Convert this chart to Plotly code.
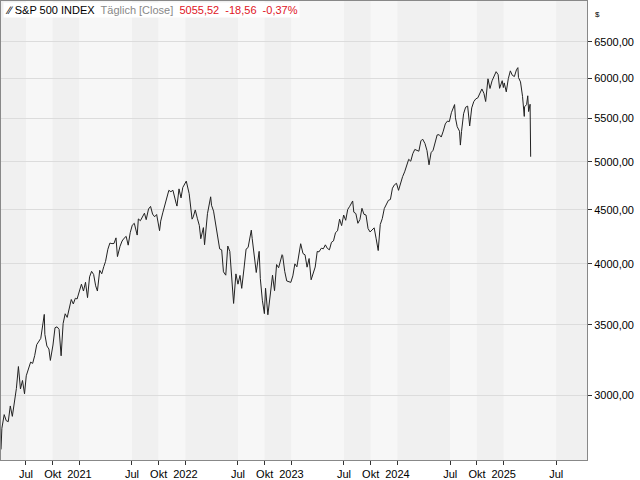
import plotly.graph_objects as go

dates = """2020-04-06 2020-04-09 2020-04-17 2020-04-24 2020-05-01 2020-05-08 2020-05-15 2020-05-22 2020-05-29 2020-06-05 2020-06-12 2020-06-19 2020-06-26
2020-07-02 2020-07-10 2020-07-17 2020-07-24 2020-07-31 2020-08-07 2020-08-14 2020-08-21 2020-09-02 2020-09-04 2020-09-11 2020-09-18 2020-09-23 2020-10-02 2020-10-09 2020-10-16 2020-10-23 2020-10-30 2020-11-06 2020-11-13 2020-11-20 2020-11-27 2020-12-04 2020-12-11 2020-12-18 2020-12-24 2020-12-31
2021-01-08 2021-01-15 2021-01-22 2021-01-29 2021-02-05 2021-02-12 2021-02-19 2021-02-26 2021-03-04 2021-03-12 2021-03-19 2021-03-26 2021-04-01 2021-04-09 2021-04-16 2021-04-23 2021-04-30 2021-05-07 2021-05-12 2021-05-21 2021-05-28 2021-06-04 2021-06-11 2021-06-18 2021-06-25 2021-07-02 2021-07-09 2021-07-19 2021-07-23 2021-07-30 2021-08-06 2021-08-13 2021-08-19 2021-08-27 2021-09-03 2021-09-10 2021-09-17 2021-09-24 2021-10-04 2021-10-08 2021-10-15 2021-10-22 2021-10-29 2021-11-05 2021-11-12 2021-11-19 2021-11-30 2021-12-03 2021-12-10 2021-12-17 2021-12-23 2021-12-31
2022-01-04 2022-01-14 2022-01-24 2022-01-28 2022-02-04 2022-02-11 2022-02-18 2022-02-23 2022-03-04 2022-03-08 2022-03-18 2022-03-29 2022-04-01 2022-04-08 2022-04-14 2022-04-22 2022-04-29 2022-05-06 2022-05-12 2022-05-20 2022-05-27 2022-06-03 2022-06-10 2022-06-16 2022-06-24 2022-07-01 2022-07-08 2022-07-14 2022-07-22 2022-07-29 2022-08-05 2022-08-16 2022-08-19 2022-08-26 2022-09-02 2022-09-12 2022-09-16 2022-09-23 2022-09-30 2022-10-04 2022-10-12 2022-10-21 2022-10-28 2022-11-04 2022-11-11 2022-11-18 2022-11-30 2022-12-02 2022-12-09 2022-12-16 2022-12-23 2022-12-30
2023-01-06 2023-01-13 2023-01-20 2023-01-27 2023-02-02 2023-02-10 2023-02-17 2023-02-24 2023-03-03 2023-03-10 2023-03-17 2023-03-24 2023-03-31 2023-04-06 2023-04-14 2023-04-21 2023-04-28 2023-05-05 2023-05-12 2023-05-19 2023-05-26 2023-06-02 2023-06-09 2023-06-16 2023-06-23 2023-06-30 2023-07-07 2023-07-14 2023-07-21 2023-07-31 2023-08-04 2023-08-11 2023-08-18 2023-08-25 2023-09-01 2023-09-08 2023-09-15 2023-09-22 2023-09-29 2023-10-06 2023-10-13 2023-10-20 2023-10-27 2023-11-03 2023-11-10 2023-11-17 2023-11-24 2023-12-01 2023-12-08 2023-12-15 2023-12-22 2023-12-29
2024-01-05 2024-01-12 2024-01-19 2024-01-26 2024-02-02 2024-02-09 2024-02-16 2024-02-23 2024-03-01 2024-03-08 2024-03-15 2024-03-22 2024-03-28 2024-04-05 2024-04-12 2024-04-19 2024-04-26 2024-05-03 2024-05-10 2024-05-17 2024-05-24 2024-05-31 2024-06-07 2024-06-14 2024-06-21 2024-06-28 2024-07-05 2024-07-16 2024-07-19 2024-07-25 2024-08-02 2024-08-05 2024-08-09 2024-08-16 2024-08-23 2024-08-30 2024-09-06 2024-09-13 2024-09-20 2024-09-27 2024-10-04 2024-10-11 2024-10-18 2024-10-25 2024-10-31 2024-11-08 2024-11-15 2024-11-22 2024-11-29 2024-12-06 2024-12-13 2024-12-18 2024-12-27 2024-12-31
2025-01-03 2025-01-10 2025-01-17 2025-01-24 2025-01-31 2025-02-07 2025-02-14 2025-02-19 2025-02-21 2025-02-28 2025-03-07 2025-03-13 2025-03-14 2025-03-21 2025-03-25 2025-03-28 2025-04-02 2025-04-03 2025-04-04""".split()

closes = [2664, 2790, 2875, 2837, 2831, 2930, 2864, 2955, 3044, 3194, 3041, 3098, 3009,
 3130, 3185, 3225, 3216, 3271, 3351, 3373, 3397, 3580, 3427, 3341, 3319, 3237, 3348, 3477, 3484, 3465, 3270, 3510, 3585, 3557, 3638, 3699, 3663, 3709, 3703, 3756,
 3825, 3768, 3841, 3714, 3887, 3934, 3907, 3811, 3768, 3943, 3913, 3975, 4020, 4129, 4185, 4180, 4181, 4233, 4063, 4156, 4204, 4230, 4247, 4166, 4281, 4352, 4370, 4259, 4412, 4395, 4437, 4468, 4405, 4509, 4535, 4459, 4433, 4455, 4300, 4391, 4471, 4545, 4605, 4697, 4683, 4698, 4567, 4538, 4712, 4620, 4726, 4766,
 4793, 4663, 4410, 4432, 4500, 4419, 4349, 4225, 4329, 4170, 4463, 4631, 4546, 4488, 4393, 4272, 4132, 4123, 3930, 3901, 4158, 4109, 3901, 3667, 3912, 3825, 3899, 3790, 3962, 4130, 4145, 4305, 4228, 4058, 3924, 4110, 3873, 3693, 3586, 3791, 3577, 3752, 3901, 3771, 3993, 3965, 4080, 4072, 3934, 3852, 3845, 3840,
 3895, 3999, 3973, 4071, 4179, 4090, 4079, 3970, 4046, 3862, 3917, 3971, 4109, 4105, 4138, 4133, 4169, 4136, 4124, 4192, 4205, 4282, 4299, 4410, 4348, 4450, 4399, 4505, 4536, 4589, 4478, 4464, 4370, 4406, 4516, 4457, 4450, 4320, 4288, 4308, 4327, 4224, 4117, 4358, 4415, 4514, 4559, 4595, 4604, 4719, 4755, 4770,
 4697, 4784, 4840, 4891, 4959, 5027, 5006, 5089, 5137, 5124, 5117, 5234, 5254, 5204, 5123, 4967, 5100, 5128, 5223, 5303, 5305, 5278, 5347, 5432, 5465, 5460, 5567, 5667, 5505, 5399, 5346, 5186, 5344, 5554, 5634, 5648, 5408, 5626, 5703, 5738, 5751, 5815, 5864, 5808, 5705, 5996, 5870, 5969, 6032, 6090, 6051, 5872, 5971, 5882,
 5942, 5827, 5997, 6101, 6041, 6026, 6115, 6144, 6013, 5955, 5770, 5522, 5639, 5667, 5777, 5581, 5671, 5397, 5055.52]

band_edges = ["2020-04-01", "2020-07-01", "2020-10-01", "2021-01-01", "2021-07-01", "2021-10-01", "2022-01-01",
              "2022-07-01", "2022-10-01", "2023-01-01", "2023-07-01", "2023-10-01", "2024-01-01",
              "2024-07-01", "2024-10-01", "2025-01-01", "2025-07-01", "2025-12-01"]

y_ticks = [3000, 3500, 4000, 4500, 5000, 5500, 6000, 6500]
x_ticks = ["2020-07-01", "2020-10-01", "2021-01-01", "2021-07-01", "2021-10-01", "2022-01-01",
           "2022-07-01", "2022-10-01", "2023-01-01", "2023-07-01", "2023-10-01", "2024-01-01",
           "2024-07-01", "2024-10-01", "2025-01-01", "2025-07-01"]
x_labels = ["Jul", "Okt", "2021", "Jul", "Okt", "2022", "Jul", "Okt", "2023", "Jul", "Okt", "2024",
            "Jul", "Okt", "2025", "Jul"]

fig = go.Figure()
fig.add_trace(go.Scatter(x=dates, y=closes, mode="lines", line=dict(color="#222222", width=1), hoverinfo="skip"))

shapes = []
for i in range(len(band_edges) - 1):
    shapes.append(dict(type="rect", xref="x", yref="paper", x0=band_edges[i], x1=band_edges[i + 1], y0=0, y1=1,
                       fillcolor="#f0f0f0" if i % 2 == 0 else "#f7f7f7", line=dict(width=0), layer="below"))
fig.update_layout(
    width=640, height=480, margin=dict(l=1, r=53, t=1, b=20, autoexpand=False),
    paper_bgcolor="white", plot_bgcolor="#f7f7f7", showlegend=False, shapes=shapes,
    font=dict(family="Liberation Sans", size=11, color="#000"),
    xaxis=dict(range=["2020-04-06", "2025-10-15"], tickvals=x_ticks, ticktext=x_labels, showgrid=False,
               ticks="outside", ticklen=4, tickcolor="#333", showline=True, linecolor="#888", mirror=True,
               tickfont=dict(size=11, color="#000"), zeroline=False, ticklabelstandoff=0),
    yaxis=dict(type="log", side="right", range=[3.4155, 3.8518], tickvals=y_ticks,
               ticktext=[f"{v},00" for v in y_ticks], showgrid=True, gridcolor="#dcdcdc",
               ticks="outside", ticklen=4, tickcolor="#333", showline=True, linecolor="#888", mirror=True,
               tickfont=dict(size=11, color="#000"), zeroline=False),
    annotations=[
        dict(xref="paper", yref="paper", x=0.003, y=0.997, xanchor="left", yanchor="top", showarrow=False,
             bgcolor="white", font=dict(size=11),
             text="<span style='color:#000'>∕∕ S&P 500 INDEX</span>  <span style='color:#888'>Täglich [Close]</span>  "
                  "<span style='color:#e0141e'>5055,52  -18,56  -0,37%</span>"),
        dict(xref="paper", yref="paper", x=1.0, y=0.985, xanchor="left", yanchor="top", xshift=6, showarrow=False,
             text="$", font=dict(size=8)),
    ],
)
fig.write_html("out.html", config={"displayModeBar": False},
               post_script="document.body.style.margin='0';document.body.style.overflow='hidden';")
